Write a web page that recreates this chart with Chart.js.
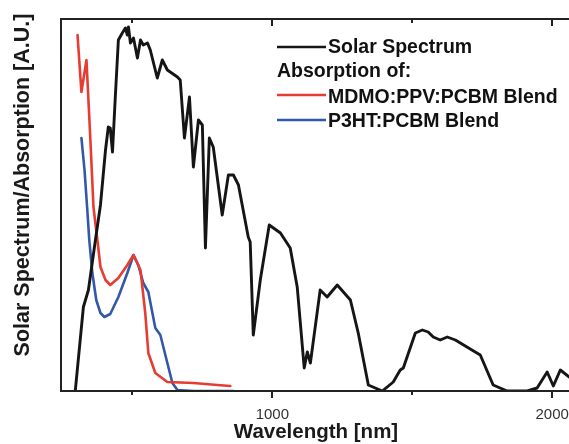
<!DOCTYPE html>
<html><head><meta charset="utf-8">
<script src="https://cdn.jsdelivr.net/npm/chart.js@4.4.1/dist/chart.umd.min.js"></script>
<style>html,body{margin:0;padding:0;background:#fff}#wrap{width:569px;height:444px}</style>
</head><body><div id="wrap"><canvas id="c" width="569" height="444"></canvas></div>
<script>
// Solar spectrum (wavelength nm, A.U.)
const solarWl = [296,325,343,368,386,404,414,421,429,439,450,464,475,482,486,493,504,511,518,529,539,554,564,589,607,625,661,671,686,704,718,736,750,761,775,789,821,843,861,879,914,921,932,957,989,1029,1064,1089,1114,1125,1136,1171,1196,1232,1279,1307,1343,1393,1432,1457,1468,1511,1536,1557,1575,1600,1625,1654,1725,1743,1789,1839,1911,1946,1982,2004,2029,2061];
const solarVal = [0,84,101,151,186,241,264,263,239,294,351,358,363,356,364,348,353,343,333,351,346,348,341,313,331,321,314,311,253,294,224,271,266,143,253,244,176,216,216,206,154,149,56,111,166,158,143,104,23,39,28,101,94,106,91,58,6,0,9,21,23,58,61,59,54,51,54,51,39,36,6,0,0,3,19,5,21,14];
// MDMO:PPV:PCBM blend absorption
const mdmoWl = [304,318,336,350,361,375,386,404,421,450,482,504,529,546,557,582,625,718,804,850];
const mdmoVal = [356,299,331,251,184,151,124,111,106,113,126,136,121,78,38,18,9,8,6,5];
// P3HT:PCBM blend absorption
const p3htWl = [318,329,339,346,357,371,386,400,421,450,482,504,521,539,557,582,600,625,643,661,718,861];
const p3htVal = [253,221,181,151,118,91,78,74,77,94,118,136,126,108,99,63,56,28,8,1,0,0];
// axis ticks
const xTicks = [500,1000,1500,2000];
const xLabelTicks = [1000,2000];
const legendLabels = ["Solar Spectrum","Absorption of:","MDMO:PPV:PCBM Blend","P3HT:PCBM Blend"];
const xTitle = "Wavelength [nm]";
const yTitle = "Solar Spectrum/Absorption [A.U.]";

const BLACK = '#151515', RED = '#e63c32', BLUE = '#3458a8';
const pts = (xs, ys) => xs.map((x, i) => ({x, y: ys[i]}));

const deco = {
  id: 'deco',
  afterDraw(chart) {
    const {ctx, chartArea: a, scales: {x}} = chart;
    ctx.save();
    ctx.strokeStyle = '#222'; ctx.lineWidth = 2;
    ctx.beginPath();
    ctx.moveTo(a.right + 2, a.top); ctx.lineTo(a.left, a.top); ctx.lineTo(a.left, a.bottom); ctx.lineTo(a.right + 2, a.bottom);
    ctx.stroke();
    xTicks.forEach(v => {
      const px = Math.round(x.getPixelForValue(v));
      const major = xLabelTicks.includes(v);
      ctx.beginPath();
      ctx.moveTo(px, a.bottom); ctx.lineTo(px, a.bottom + (major ? 7 : 4));
      ctx.moveTo(px, a.top); ctx.lineTo(px, a.top + (major ? 7 : 4));
      ctx.stroke();
    });
    // titles
    ctx.fillStyle = '#1a1a1a';
    ctx.font = 'bold 20.5px "Liberation Sans", Arial, sans-serif';
    ctx.textAlign = 'center'; ctx.textBaseline = 'alphabetic';
    ctx.fillText(xTitle, 316, 438);
    ctx.save();
    ctx.font = 'bold 21.5px "Liberation Sans", Arial, sans-serif';
    ctx.translate(29, 185); ctx.rotate(-Math.PI / 2);
    ctx.fillText(yTitle, 0, 0);
    ctx.restore();
    // legend
    ctx.font = 'bold 19.5px "Liberation Sans", Arial, sans-serif';
    ctx.textAlign = 'left';
    const lines = [[BLACK, 47, 2.6], [null, 0, 0], [RED, 95, 2.6], [BLUE, 120, 2.6]];
    const base = [53, 77, 103, 127];
    const tx = [328, 277, 328, 328];
    legendLabels.forEach((t, i) => {
      if (lines[i][0]) {
        ctx.strokeStyle = lines[i][0]; ctx.lineWidth = lines[i][2];
        ctx.beginPath(); ctx.moveTo(277, lines[i][1]); ctx.lineTo(326, lines[i][1]); ctx.stroke();
      }
      ctx.fillStyle = '#111';
      ctx.fillText(t, tx[i], base[i]);
    });
    ctx.restore();
  }
};

new Chart(document.getElementById('c'), {
  type: 'line',
  data: {
    datasets: [
      {label: legendLabels[0], data: pts(solarWl, solarVal), borderColor: BLACK, borderWidth: 2.9},
      {label: legendLabels[2], data: pts(mdmoWl, mdmoVal), borderColor: RED, borderWidth: 2.6},
      {label: legendLabels[3], data: pts(p3htWl, p3htVal), borderColor: BLUE, borderWidth: 2.6}
    ]
  },
  options: {
    responsive: false, animation: false,
    layout: {padding: {left: 61, top: 19, right: 0, bottom: 0}},
    elements: {point: {radius: 0}, line: {tension: 0, borderJoinStyle: 'round', borderCapStyle: 'round'}},
    plugins: {legend: {display: false}, tooltip: {enabled: false}},
    scales: {
      x: {
        type: 'linear', min: 245, max: 2060,
        grid: {display: false}, border: {display: false},
        afterBuildTicks: s => { s.ticks = xTicks.map(v => ({value: v})); },
        afterFit: s => { s.height = 53; s.paddingLeft = 0; s.paddingRight = 0; },
        ticks: {
          padding: 7, color: '#333', maxRotation: 0, autoSkip: false,
          font: {family: '"Liberation Sans", Arial, sans-serif', size: 15},
          callback: v => xLabelTicks.includes(v) ? String(v) : ''
        }
      },
      y: {type: 'linear', min: 0, max: 372, display: false}
    }
  },
  plugins: [deco]
});
</script></body></html>
